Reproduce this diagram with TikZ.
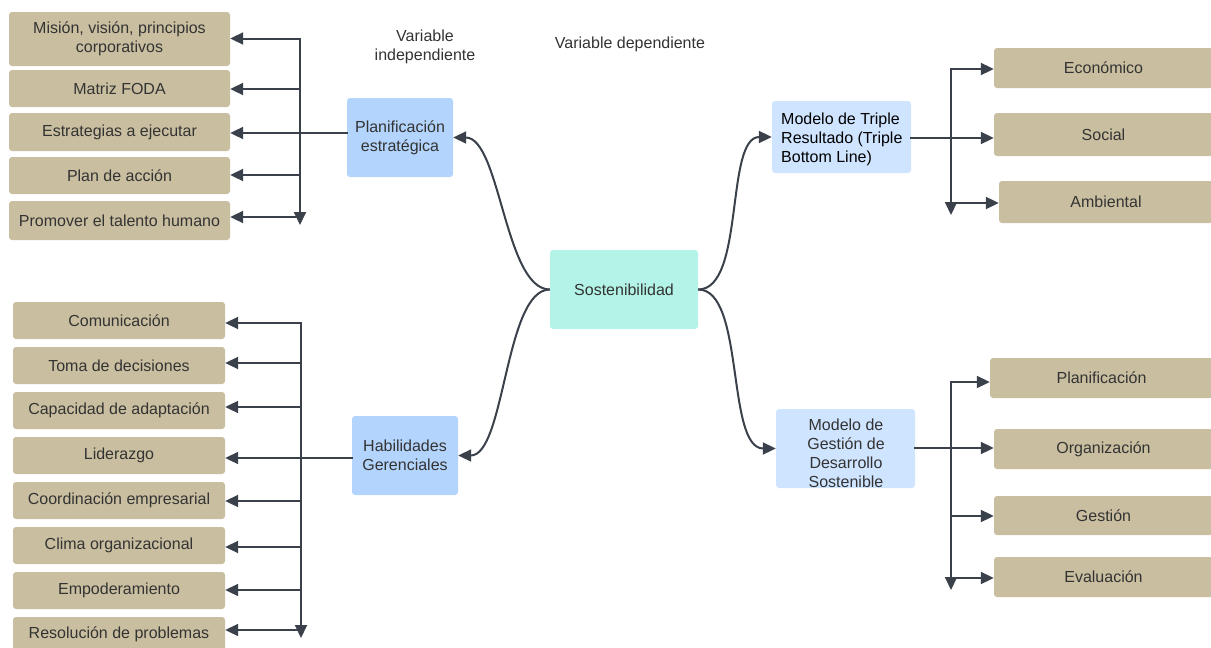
\documentclass[tikz,border=0pt]{standalone}
\usepackage{fontspec}
\setmainfont{Liberation Sans}
\usetikzlibrary{arrows.meta}
\definecolor{tanc}{RGB}{201,191,160}
\definecolor{bluea}{RGB}{179,212,252}
\definecolor{blueb}{RGB}{207,228,255}
\definecolor{mintc}{RGB}{180,243,232}
\definecolor{linec}{RGB}{58,65,75}
\definecolor{txtc}{RGB}{51,51,51}
\tikzset{
  box/.style={rounded corners=3pt, inner sep=0pt, align=center, text=txtc, font=\fontsize{16}{19}\selectfont},
  tanbox/.style={box, fill=tanc},
  conn/.style={draw=linec, line width=2pt, line cap=rect, -{Triangle[length=13pt,width=12pt]}},
  trunk/.style={draw=linec, line width=2pt, line cap=rect},
  curvearrow/.style={draw=linec, line width=2pt, -{Triangle[length=13pt,width=12pt]}},
  plain/.style={text=txtc, align=center, font=\fontsize{16}{19}\selectfont, inner sep=0pt}
}
\begin{document}
\begin{tikzpicture}[x=1pt,y=-1pt]
\useasboundingbox (0,0) rectangle (1211,648);

% header labels
\node[plain] (vi) at (425,46.5) {Variable\\independiente};
\node[plain] (vd) at (630,44) {Variable dependiente};

% central
\node[box, fill=mintc, minimum width=148pt, minimum height=79pt] (sost) at (624,289.5) {Sostenibilidad};

% blue boxes
\node[box, fill=bluea, minimum width=106pt, minimum height=79pt] (plan) at (400,137.5) {Planificación\\estratégica};
\node[box, fill=bluea, minimum width=106pt, minimum height=79pt] (hab) at (405,455.5) {Habilidades\\Gerenciales};
\node[box, fill=blueb, minimum width=139pt, minimum height=72pt] (trip) at (841.5,137) {};
\node[box, text=black, align=left, anchor=west] (triptxt) at (781,139) {Modelo de Triple\\Resultado (Triple\\Bottom Line)};
\node[box, fill=blueb, minimum width=139pt, minimum height=79pt] (gest) at (845.5,448.5) {};
\node[plain] (gesttxt) at (846,453.5) {Modelo de\\Gestión de\\Desarrollo\\Sostenible};

% left top tan boxes
\node[tanbox, minimum width=221pt, minimum height=54pt] (m1) at (119.5,39) {Misión, visión, principios\\corporativos};
\node[tanbox, minimum width=221pt, minimum height=37pt] (m2) at (119.5,88.5) {Matriz FODA};
\node[tanbox, minimum width=221pt, minimum height=38pt] (m3) at (119.5,132) {Estrategias a ejecutar};
\node[tanbox, minimum width=221pt, minimum height=37pt] (m4) at (119.5,175.5) {Plan de acción};
\node[tanbox, minimum width=221pt, minimum height=39pt] (m5) at (119.5,220.5) {Promover el talento humano};

% left bottom tan boxes
\node[tanbox, minimum width=212pt, minimum height=37pt] (h1) at (119,320.5) {Comunicación};
\node[tanbox, minimum width=212pt, minimum height=37pt] (h2) at (119,365.5) {Toma de decisiones};
\node[tanbox, minimum width=212pt, minimum height=37pt] (h3) at (119,410.5) {Capacidad de adaptación};
\node[tanbox, minimum width=212pt, minimum height=37pt] (h4) at (119,455.5) {Liderazgo};
\node[tanbox, minimum width=212pt, minimum height=37pt] (h5) at (119,500.5) {Coordinación empresarial};
\node[tanbox, minimum width=212pt, minimum height=37pt] (h6) at (119,545.5) {Clima organizacional};
\node[tanbox, minimum width=212pt, minimum height=37pt] (h7) at (119,590.5) {Empoderamiento};
\node[tanbox, minimum width=212pt, minimum height=37pt, text depth=5pt] (h8) at (119,635.5) {Resolución de problemas};

% right top tan boxes
\node[tanbox, minimum width=219pt, minimum height=40pt] (r1) at (1103.5,68) {Económico};
\node[tanbox, minimum width=219pt, minimum height=43pt] (r2) at (1103.5,134.5) {Social};
\node[tanbox, minimum width=214pt, minimum height=42pt] (r3) at (1106,202) {Ambiental};

% right bottom tan boxes
\node[tanbox, minimum width=223pt, minimum height=40pt] (g1) at (1101.5,378) {Planificación};
\node[tanbox, minimum width=219pt, minimum height=40pt] (g2) at (1103.5,449) {Organización};
\node[tanbox, minimum width=219pt, minimum height=39pt] (g3) at (1103.5,515.5) {Gestión};
\node[tanbox, minimum width=219pt, minimum height=40pt] (g4) at (1103.5,577) {Evaluación};

% trunk coordinates
\coordinate (t1) at (300,38.5);
\coordinate (t2) at (300,89);
\coordinate (t3) at (300,133);
\coordinate (t4) at (300,175);
\coordinate (t5) at (300,217);
\coordinate (tE) at (300,225);

\coordinate (u1) at (301,323);
\coordinate (u2) at (301,363);
\coordinate (u3) at (301,407);
\coordinate (u4) at (301,458);
\coordinate (u5) at (301,501);
\coordinate (u6) at (301,547);
\coordinate (u7) at (301,590);
\coordinate (u8) at (301,630);
\coordinate (uE) at (301,638);

\coordinate (v1) at (951,69);
\coordinate (v2) at (951,138);
\coordinate (v3) at (951,203);
\coordinate (vE) at (951,215);

\coordinate (w1) at (951,382);
\coordinate (w2) at (951,448);
\coordinate (w3) at (951,516);
\coordinate (w4) at (951,578);
\coordinate (wE) at (951,590);

% left top connectors
\draw[conn] (t1) -- (tE);
\draw[trunk] (plan.west |- t3) -- (t3);
\draw[conn] (t1) -- (m1.east |- t1);
\draw[conn] (t2) -- (m2.east |- t2);
\draw[conn] (t3) -- (m3.east |- t3);
\draw[conn] (t4) -- (m4.east |- t4);
\draw[conn] (t5) -- (m5.east |- t5);

% left bottom connectors
\draw[conn] (u1) -- (uE);
\draw[trunk] (hab.west |- u4) -- (u4);
\draw[conn] (u1) -- (h1.east |- u1);
\draw[conn] (u2) -- (h2.east |- u2);
\draw[conn] (u3) -- (h3.east |- u3);
\draw[conn] (u4) -- (h4.east |- u4);
\draw[conn] (u5) -- (h5.east |- u5);
\draw[conn] (u6) -- (h6.east |- u6);
\draw[conn] (u7) -- (h7.east |- u7);
\draw[conn] (u8) -- (h8.east |- u8);

% right top connectors
\draw[conn] (v1) -- (vE);
\draw[trunk] (trip.east |- v2) -- (v2);
\draw[conn] (v1) -- (r1.west |- v1);
\draw[conn] (v2) -- (r2.west |- v2);
\draw[conn] (v3) -- (r3.west |- v3);

% right bottom connectors
\draw[conn] (w1) -- (wE);
\draw[trunk] (gest.east |- w2) -- (w2);
\draw[conn] (w1) -- (g1.west |- w1);
\draw[conn] (w2) -- (g2.west |- w2);
\draw[conn] (w3) -- (g3.west |- w3);
\draw[conn] (w4) -- (g4.west |- w4);

% curved connectors from the centre
\draw[curvearrow] (sost.west) .. controls +(-45,0) and +(47,0) .. (plan.east);
\draw[curvearrow] (sost.west) .. controls +(-45,0) and +(47,0) .. (hab.east);
\draw[curvearrow] (sost.east) .. controls +(47,0) and +(-47,0) .. (trip.west);
\draw[curvearrow] (sost.east) .. controls +(47,0) and +(-50,0) .. (gest.west);
\end{tikzpicture}
\end{document}
